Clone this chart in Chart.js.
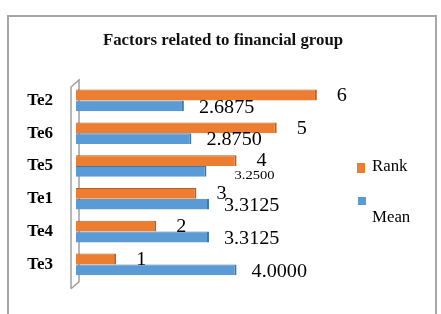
<!DOCTYPE html>
<html>
<head>
<meta charset="utf-8">
<script src="https://cdn.jsdelivr.net/npm/chart.js@4.4.1/dist/chart.umd.min.js"></script>
<style>
    html, body { margin: 0; padding: 0; background: #fff; }
    #wrap { width: 441px; height: 314px; }
</style>
</head>
<body>
<div id="wrap"><canvas id="factorChart" width="441" height="314"></canvas></div>
<script>
// categories, top to bottom as drawn
const factors = ['Te2', 'Te6', 'Te5', 'Te1', 'Te4', 'Te3'];
const rankValues = [6, 5, 4, 3, 2, 1];
const meanValues = [2.6875, 2.8750, 3.2500, 3.3125, 3.3125, 4.0000];
const chartTitle = 'Factors related to financial group';

const SERIF = '"Liberation Serif", "Times New Roman", serif';

// the source picture is a bit stretched sideways, so drawn text gets widened
function wideText(ctx, text, x, y, stretch) {
    ctx.save();
    ctx.translate(x, y);
    ctx.scale(stretch, 1);
    ctx.fillText(text, 0, 0);
    ctx.restore();
}

// frame round the whole chart, the title and the grey 3d wall at the axis
const framePlugin = {
    id: 'frame',
    beforeDraw(chart) {
        const ctx = chart.ctx;
        const area = chart.chartArea;
        ctx.save();
        ctx.strokeStyle = '#a6a6a6';
        ctx.lineWidth = 2;
        ctx.strokeRect(8, 16, 428, 320);

        ctx.fillStyle = '#111';
        ctx.font = 'bold 16px ' + SERIF;
        ctx.textBaseline = 'middle';
        const w = ctx.measureText(chartTitle).width * 1.05;
        wideText(ctx, chartTitle, 223 - w / 2, 41, 1.05);

        ctx.strokeStyle = '#a0a0a0';
        ctx.lineWidth = 1.5;
        ctx.beginPath();
        ctx.moveTo(area.left - 5, area.bottom + 8);
        ctx.lineTo(area.left - 5, area.top + 3);
        ctx.lineTo(area.left + 3, area.top - 4);
        ctx.lineTo(area.left + 3, area.bottom + 1);
        ctx.lineTo(area.left - 5, area.bottom + 8);
        ctx.stroke();
        ctx.restore();
    }
};

// value labels next to the bars
const valueLabelPlugin = {
    id: 'valueLabels',
    afterDatasetsDraw(chart) {
        const ctx = chart.ctx;
        ctx.save();
        ctx.fillStyle = '#000';
        ctx.textBaseline = 'middle';
        ctx.textAlign = 'left';

        chart.getDatasetMeta(0).data.forEach((bar, i) => {
            ctx.font = '18px ' + SERIF;
            wideText(ctx, String(rankValues[i]), bar.x + 20, bar.y + 1, 1.12);
        });
        chart.getDatasetMeta(1).data.forEach((bar, i) => {
            const small = i === 2;
            ctx.font = (small ? '13px ' : '18px ') + SERIF;
            wideText(ctx, meanValues[i].toFixed(4), bar.x + (small ? 28 : 15), bar.y + (small ? 4 : 2), 1.12);
        });
        ctx.restore();
    }
};

// legend on the right, Rank over Mean
const sideLegendPlugin = {
    id: 'sideLegend',
    afterDraw(chart) {
        const ctx = chart.ctx;
        const ds = chart.data.datasets;
        ctx.save();
        ctx.textBaseline = 'middle';
        ctx.font = '16px ' + SERIF;

        ctx.fillStyle = ds[0].backgroundColor;
        ctx.fillRect(357, 163, 8, 10);
        ctx.fillStyle = '#000';
        wideText(ctx, ds[0].label, 372, 167, 1.05);

        ctx.fillStyle = ds[1].backgroundColor;
        ctx.fillRect(358, 197, 8, 8);
        ctx.fillStyle = '#000';
        wideText(ctx, ds[1].label, 372, 218, 1.05);
        ctx.restore();
    }
};

const config = {
    type: 'bar',
    data: {
        labels: factors,
        datasets: [
            {
                label: 'Rank',
                data: rankValues,
                backgroundColor: '#ED7D31',
                borderColor: '#B85F22',
                borderWidth: { top: 1, right: 2, bottom: 0, left: 0 },
                borderSkipped: false,
            },
            {
                label: 'Mean',
                data: meanValues,
                backgroundColor: '#5B9BD5',
                borderColor: '#3F76A8',
                borderWidth: { top: 1, right: 2, bottom: 0, left: 0 },
                borderSkipped: false,
            },
        ],
    },
    options: {
        indexAxis: 'y',
        responsive: false,
        animation: false,
        devicePixelRatio: 1,
        categoryPercentage: 0.66,
        barPercentage: 1.0,
        layout: {
            padding: { left: 0, right: 84, top: 84, bottom: 26 },
        },
        plugins: {
            legend: { display: false },
            tooltip: { enabled: false },
            title: { display: false },
        },
        scales: {
            x: {
                display: false,
                min: 0,
                max: 7,
            },
            y: {
                grid: { display: false, drawTicks: false },
                border: { display: false },
                ticks: {
                    color: '#000',
                    padding: 23,
                    font: { family: SERIF, size: 17, weight: 'bold' },
                },
                afterFit(axis) {
                    axis.width = 76;
                },
            },
        },
    },
    plugins: [framePlugin, valueLabelPlugin, sideLegendPlugin],
};

new Chart(document.getElementById('factorChart'), config);
</script>
</body>
</html>
